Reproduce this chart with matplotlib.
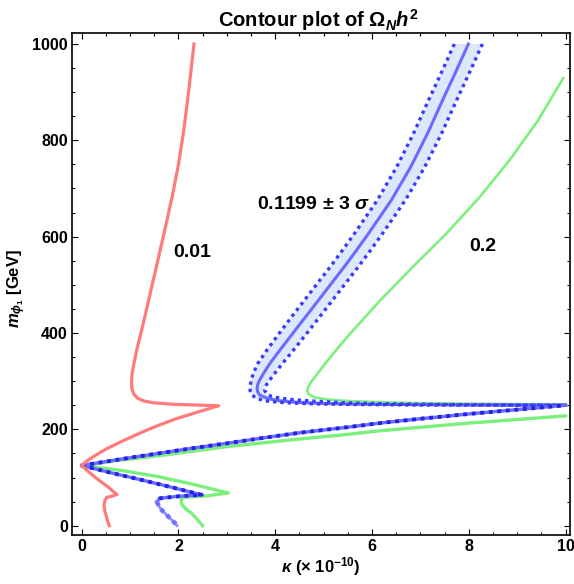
import matplotlib
matplotlib.use("Agg")
import matplotlib.pyplot as plt
from matplotlib.ticker import MultipleLocator

plt.rcParams['font.family'] = ['Liberation Sans', 'DejaVu Sans']
plt.rcParams['mathtext.fontset'] = 'custom'
plt.rcParams['mathtext.rm'] = 'Liberation Sans:bold'
plt.rcParams['mathtext.it'] = 'Liberation Sans:italic:bold'
plt.rcParams['mathtext.bf'] = 'Liberation Sans:bold'

# contour 0.01 (red), one path from top to bottom
red_k = [2.32, 2.22, 2.11, 2.00, 1.87, 1.72, 1.56, 1.40, 1.24, 1.15, 1.08, 1.04, 1.03,
         1.04, 1.08, 1.15, 1.28, 1.50, 1.90, 2.40, 2.83,
         2.40, 1.95, 1.55, 1.20, 0.85, 0.52, 0.30, 0.13, 0.0,
         0.12, 0.26, 0.40, 0.54, 0.64, 0.73, 0.62, 0.52, 0.48, 0.46, 0.48, 0.51, 0.54, 0.57]
red_m = [1000, 910, 821, 750, 683, 615, 545, 475, 406, 370, 337, 315, 296,
         283, 273, 265, 259, 255, 252, 250.5, 249,
         236, 222, 207, 192, 176, 160, 147, 136, 125,
         114, 102, 91, 81, 72, 65, 61, 59, 52, 43, 30, 19, 9, 0]

# contour 0.2 (green), upper branch
grn_up_k = [9.95, 9.42, 8.85, 8.23, 7.54, 6.85, 6.18, 5.55, 5.22, 4.98, 4.83, 4.74,
            4.68, 4.66, 4.69, 4.80, 5.00, 5.30, 5.70, 6.30, 7.00, 8.20, 10.0]
grn_up_m = [929, 840, 760, 683, 607, 538, 469, 399, 360, 330, 310, 298,
            288, 280, 273, 267, 263, 260, 258, 256, 254.5, 253, 252]

# contour 0.2 (green), lower branch
grn_lo_k = [10.0, 8.0, 6.16, 5.54, 4.51, 3.07, 1.58, 0.80, 0.0, 0.80, 1.58, 2.30, 3.03,
            2.60, 2.10, 2.06, 2.06, 2.15, 2.27, 2.38, 2.50]
grn_lo_m = [228, 213, 197, 190, 180, 165, 145, 136, 125, 115, 102, 86, 68,
            62, 59, 55, 46, 35, 26, 14, 0]

# 0.1199 centre line and +-3 sigma edges
ctr_k = [7.99, 7.72, 7.46, 7.15, 6.80, 6.40, 5.93, 5.68, 5.43, 5.16, 4.90, 4.63, 4.36,
         4.10, 3.89, 3.75, 3.665, 3.635, 3.625, 3.635, 3.68, 3.85, 4.10, 4.45, 4.90,
         5.50, 6.50, 7.80, 10.0]
ctr_m = [1000, 940, 884, 815, 745, 676, 607, 572, 538, 503, 469, 434, 399,
         365, 337, 315, 300, 292, 285, 278, 271, 264, 259, 256, 254,
         252.5, 251.5, 250.8, 250]

out_k = [7.70, 7.43, 7.17, 6.86, 6.51, 6.11, 5.64, 5.39, 5.14, 4.87, 4.61, 4.34, 4.08,
         3.83, 3.64, 3.54, 3.50, 3.48, 3.48, 3.52, 3.62, 3.80, 4.10, 4.50, 5.00,
         5.80, 7.00, 10.0]
out_m = [1000, 940, 884, 815, 745, 676, 607, 572, 538, 503, 469, 434, 399,
         365, 337, 315, 300, 290, 280, 271, 264, 259, 256, 254, 252.5,
         251.5, 250.5, 250]

inn_k = [8.28, 8.01, 7.75, 7.44, 7.09, 6.69, 6.22, 5.97, 5.72, 5.45, 5.19, 4.92, 4.65,
         4.38, 4.15, 3.98, 3.87, 3.80, 3.78, 3.82, 3.93, 4.15, 4.45, 4.90, 5.50,
         6.30, 7.50, 8.80, 10.0]
inn_m = [1000, 940, 884, 815, 745, 676, 607, 572, 538, 503, 469, 434, 399,
         365, 337, 315, 300, 290, 281, 274, 268, 264, 261, 258, 255,
         253, 251.5, 250.5, 250]

# 0.1199 lower branches (edges coincide with centre)
blu_up_k = [0.0, 0.80, 1.58, 2.30, 3.07, 3.80, 4.51, 5.54, 6.16, 7.00, 8.00, 9.00, 10.0]
blu_up_m = [125, 138, 150, 161, 172, 183, 193, 205, 213, 222, 232, 241, 250]

blu_dn_k = [0.0, 0.60, 1.24, 1.85, 2.48, 2.00, 1.62, 1.55]
blu_dn_m = [125, 110, 95, 80, 64, 61, 57, 50]

blu_leg_k = [1.55, 1.60, 1.65, 1.72, 1.80, 1.87, 1.93, 1.97]
blu_leg_m = [50, 40, 33, 26, 18, 11, 5, 0]

RED = '#ff7a7a'
GREEN = '#7cf07c'
BLUE = '#6b6bff'
DOT = '#3a3aff'
FILL = '#dce8fb'

fig = plt.figure(figsize=(5.74, 5.84), dpi=100)
ax = fig.add_axes([72/574, 1 - 535/584, 498/574, 502/584])

ax.fill(out_k + inn_k[::-1], out_m + inn_m[::-1], color=FILL, lw=0, zorder=1)

ax.plot(grn_up_k, grn_up_m, color=GREEN, lw=1.9, zorder=2)
ax.plot(grn_lo_k, grn_lo_m, color=GREEN, lw=2.4, zorder=2)

ax.plot(ctr_k, ctr_m, color=BLUE, lw=2.2, zorder=3)
ax.plot(out_k, out_m, color=DOT, lw=2.4, ls=(0, (1, 1.2)), zorder=3)
ax.plot(inn_k, inn_m, color=DOT, lw=2.4, ls=(0, (1, 1.2)), zorder=3)

for kk, mm in [(blu_up_k, blu_up_m), (blu_dn_k, blu_dn_m)]:
    ax.plot(kk, mm, color=BLUE, lw=2.4, zorder=3)
    ax.plot(kk, mm, color='#2222ee', lw=2.8, ls=(0, (1, 1.2)), zorder=3)
ax.plot(blu_leg_k, blu_leg_m, color='#9090ff', lw=2.0, zorder=3)
ax.plot(blu_leg_k, blu_leg_m, color='#7070ff', lw=3.2, ls=(0, (1, 0.9)), zorder=3)

ax.plot(red_k, red_m, color=RED, lw=2.3, zorder=4)

ax.text(2.28, 568, '0.01', fontsize=14, fontweight='bold', ha='center', va='center')
ax.text(4.80, 666, '0.1199 ± 3 $\\sigma$', fontsize=14, fontweight='bold',
        ha='center', va='center')
ax.text(8.29, 580, '0.2', fontsize=14, fontweight='bold', ha='center', va='center')

ax.set_xlim(-0.2, 10.09)
ax.set_ylim(-19.3, 1022.8)
ax.xaxis.set_major_locator(MultipleLocator(2))
ax.xaxis.set_minor_locator(MultipleLocator(0.5))
ax.yaxis.set_major_locator(MultipleLocator(200))
ax.yaxis.set_minor_locator(MultipleLocator(50))
ax.tick_params(which='both', direction='in', top=True, right=True, width=0.8)
ax.tick_params(which='major', length=4, labelsize=11.5, pad=3)
ax.tick_params(which='minor', length=2)
for lab in ax.get_xticklabels() + ax.get_yticklabels():
    lab.set_fontweight('bold')
for sp in ax.spines.values():
    sp.set_linewidth(1.2)

fig.text(218/574, 1 - 27/584, 'Contour plot of $\\Omega_N h^2$', fontsize=14.5,
         fontweight='bold', ha='left', va='baseline')
ax.set_xlabel('$\\kappa$ (× 10$^{-10}$)', fontsize=12, fontweight='bold', labelpad=1)
ax.set_ylabel('$m_{\\phi_1}$ [GeV]', fontsize=12, fontweight='bold')
ax.yaxis.set_label_coords(-0.088, 0.49)

fig.savefig('out.png', dpi=100)
